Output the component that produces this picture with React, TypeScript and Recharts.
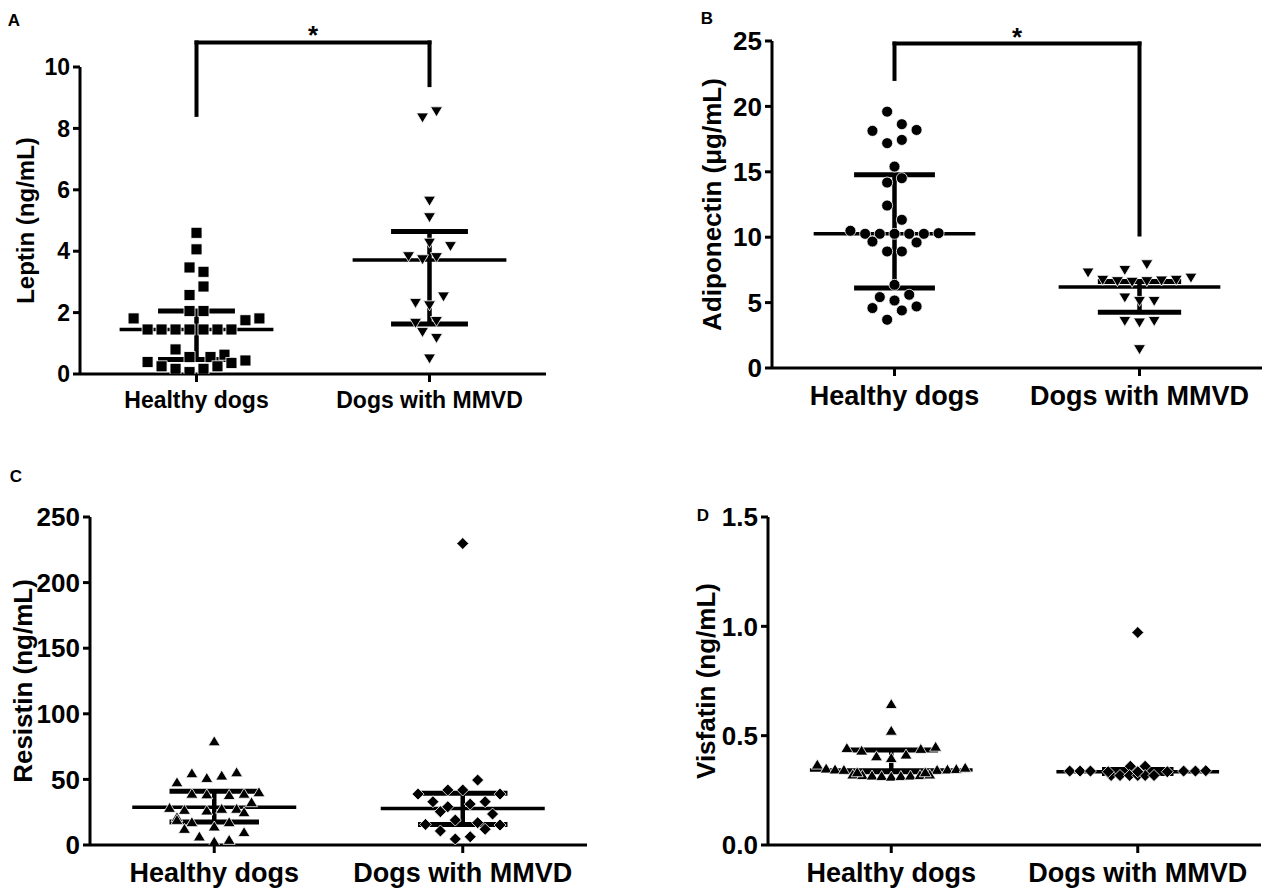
import React from 'react'
import { ScatterChart, Scatter, XAxis, YAxis, ReferenceLine, ReferenceDot } from 'recharts'

const groups = ['Healthy dogs', 'Dogs with MMVD']

// each point: [value, column slot used by the dot-plot spreading]
// A - leptin (ng/mL)
const leptinHealthy: [number, number][] = [
  [4.6, 0], [4.06, 0], [3.47, -0.5], [3.33, 0.5], [2.85, 0.5], [2.57, -0.5], [2.05, -0.5], [2.05, 0.5],
  [1.81, -4.5], [1.75, 3.5], [1.81, 4.5], [1.45, -3.5], [1.45, -2.5], [1.45, -1.5], [1.45, -0.5], [1.45, 0.5],
  [1.45, 1.5], [1.45, 2.5], [0.8, -1.5], [0.55, -0.5], [0.55, 1], [0.63, 2], [0.36, 2.5], [0.39, -3.5],
  [0.44, 3.5], [0.25, -2.5], [0.17, -1.5], [0.06, -0.5], [0.17, 0.5], [0.25, 1.5],
]
const leptinMmvd: [number, number][] = [
  [8.34, -0.5], [8.54, 0.5], [5.63, 0], [5.09, 0], [4.26, 0], [4.15, 1.5], [3.82, -1.5], [3.72, -0.5],
  [3.79, 0.5], [2.51, 1], [2.3, -1], [2.22, 0], [1.65, -1], [1.71, 0.5], [1.35, -0.5], [1.16, 0.5], [0.49, 0],
]
const leptinMedian = [1.45, 3.71]
const leptinQ1 = [0.47, 1.63]
const leptinQ3 = [2.05, 4.64]
const leptinTicks = [0, 2, 4, 6, 8, 10]
const leptinBracket = [8.44, 9.41, 10.8] // left foot, right foot, top

// B - adiponectin (ug/mL)
const adipoHealthy: [number, number][] = [
  [19.6, -0.5], [18.13, -1.5], [18.64, 0.5], [18.2, 1.5], [17.19, -0.5], [17.44, 0.5], [15.4, 0], [14.18, -0.5],
  [14.51, 0.5], [12.42, -0.5], [11.33, 0.5], [10.49, -3], [10.26, -2], [10.26, -1], [10.26, 0], [10.26, 1],
  [10.26, 2], [10.31, 3], [9.67, -1.5], [9.6, 1.5], [8.91, -0.5], [8.91, 0.5], [6.36, 0], [5.42, -1],
  [5.6, 1], [5.16, 0], [4.58, -1.5], [4.71, 1.5], [4.4, 0.5], [3.69, -0.5],
]
const adipoMmvd: [number, number][] = [
  [7.26, -3.5], [7.46, -1], [7.89, 0.5], [6.87, 3.5], [6.7, -2.5], [6.6, -1.5], [6.55, -0.5], [6.6, 0.5],
  [6.65, 1.5], [6.7, 2.5], [5.35, -1], [5.09, 0], [5.09, 1], [3.56, -1], [3.44, 0], [3.56, 1], [1.4, 0],
]
const adipoMedian = [10.26, 6.19]
const adipoQ1 = [6.11, 4.27]
const adipoQ3 = [14.77, 6.62]
const adipoTicks = [0, 5, 10, 15, 20, 25]
const adipoBracket = [22.1, 10.2, 24.8]

// C - resistin (ng/mL)
const resistinHealthy: [number, number][] = [
  [79.4, 0], [55.1, -1.5], [51.5, -0.5], [53.3, 0.5], [55.8, 1.5], [48.2, -2.5], [39.5, -1.5], [39.0, -0.5],
  [38.5, 1], [39.5, 2], [40.6, 3], [33.0, 2.5], [28.7, -3], [27.2, -2], [26.7, -0.5], [28.0, 0.5],
  [28.0, 1.5], [25.4, 2], [21.6, -2.5], [19.5, -2.5], [17.8, -1.5], [14.5, 0], [17.8, 1], [12.7, -2],
  [10.2, 2], [6.9, -1], [3.0, 0], [4.3, 1],
]
const resistinMmvd: [number, number][] = [
  [229.8, 0], [49.5, 1], [38.8, -3], [41.9, -1], [41.9, 0], [38.8, 2.5], [33.0, -2], [31.2, 0.5],
  [33.0, 1.5], [25.4, -1.5], [29.2, -1], [23.6, 2], [19.0, -0.5], [15.7, -2.5], [17.0, 1], [15.2, 2.5],
  [12.0, 1.5], [10.7, -1.5], [4.6, -0.5], [6.3, 0.5],
]
const resistinMedian = [28.7, 27.9]
const resistinQ1 = [17.5, 15.7]
const resistinQ3 = [41.0, 39.4]
const resistinTicks = [0, 50, 100, 150, 200, 250]

// D - visfatin (ng/mL)
const visfatinHealthy: [number, number][] = [
  [0.647, 0], [0.525, 0], [0.446, -3], [0.452, 3], [0.434, -2], [0.442, 2], [0.408, -1], [0.416, 1],
  [0.4, 0], [0.37, -5], [0.352, -4.4], [0.348, -3.8], [0.346, -3.2], [0.346, 3.1], [0.348, 3.8], [0.35, 4.4],
  [0.356, 5], [0.325, -2.6], [0.322, -1.95], [0.32, -1.3], [0.318, -0.65], [0.315, 0], [0.318, 0.65],
  [0.32, 1.3], [0.322, 1.95], [0.325, 2.6], [0.335, -2.3], [0.335, 2.3],
]
const visfatinMmvd: [number, number][] = [
  [0.972, 0], [0.338, -4.6], [0.338, -3.9], [0.338, -3.2], [0.338, 3.1], [0.338, 3.9], [0.34, 4.6],
  [0.36, -0.5], [0.36, 0.5], [0.318, -1.8], [0.318, -1.2], [0.318, -0.55], [0.318, 0], [0.318, 0.5],
  [0.318, 1.1], [0.335, -2], [0.335, 0], [0.335, 2],
]
const visfatinMedian = [0.343, 0.335]
const visfatinQ1 = [0.335, 0.327]
const visfatinQ3 = [0.435, 0.345]
const visfatinTicks = [0, 0.5, 1.0, 1.5]

const FONT = '"Liberation Sans", Arial, Helvetica, sans-serif'
const STEP = 0.12
const YW = 90
const MT = 70
const MR = 6
const XH = 50
const axisStyle = { stroke: '#000', strokeWidth: 3 }

type Kind = 'square' | 'circle' | 'down' | 'up' | 'diamond'

const marker = (kind: Kind) => (props: any) => {
  const { cx, cy } = props
  if (cx == null || cy == null) return <g />
  const common = { fill: '#000', stroke: '#fff', strokeWidth: 0.8 }
  if (kind === 'square') return <rect x={cx - 5.5} y={cy - 5.5} width={11} height={11} {...common} />
  if (kind === 'circle') return <circle cx={cx} cy={cy} r={5.5} {...common} />
  if (kind === 'down')
    return <polygon points={`${cx - 6},${cy - 5} ${cx + 6},${cy - 5} ${cx},${cy + 5}`} {...common} />
  if (kind === 'up')
    return <polygon points={`${cx - 6},${cy + 5} ${cx + 6},${cy + 5} ${cx},${cy - 5}`} {...common} />
  return <polygon points={`${cx},${cy - 6} ${cx + 6},${cy} ${cx},${cy + 6} ${cx - 6},${cy}`} {...common} />
}

const toPoints = (rows: [number, number][], g: number) =>
  rows.map(([v, s]) => ({ x: 1 + 2 * g + s * STEP, y: v }))

type PanelProps = {
  letter: string
  letterPos: [number, number]
  plot: { x: number; y: number; w: number; h: number }
  title: string
  titleOff: number
  titleFont: number
  tickFont: number
  xFont: number
  ticks: number[]
  fmt?: (v: number) => string
  series: [number, number][][]
  shapes: Kind[]
  median: number[]
  q1: number[]
  q3: number[]
  iqrHalf: number[]
  bracket?: number[]
}

function Panel(p: PanelProps) {
  const width = p.plot.w + YW + MR
  const height = p.plot.h + MT + XH
  const yMax = p.ticks[p.ticks.length - 1]

  const yTitle = (props: any) => {
    const vb = props.viewBox
    const cx = vb.x + vb.width - p.titleOff
    const cy = vb.y + vb.height / 2
    return (
      <text x={cx} y={cy} transform={`rotate(-90 ${cx} ${cy})`} textAnchor="middle" dominantBaseline="central"
        fontFamily={FONT} fontWeight={700} fontSize={p.titleFont} fill="#000">
        {p.title}
      </text>
    )
  }

  return (
    <>
      <div style={{
        position: 'absolute', left: p.letterPos[0], top: p.letterPos[1], transform: 'translate(-50%, -50%)',
        fontFamily: FONT, fontWeight: 700, fontSize: 17, lineHeight: 1,
      }}>{p.letter}</div>
      <div style={{ position: 'absolute', left: p.plot.x - YW, top: p.plot.y - MT, width, height }}>
        <ScatterChart width={width} height={height} margin={{ top: MT, right: MR, bottom: 0, left: 0 }}>
          <XAxis type="number" dataKey="x" domain={[0, 4]} ticks={[1, 3]} interval={0} allowDataOverflow
            tickFormatter={(v: number) => groups[(v - 1) / 2]} height={XH}
            axisLine={axisStyle} tickLine={axisStyle} tickSize={8} tickMargin={10}
            tick={{ fill: '#000', fontSize: p.xFont, fontWeight: 700, fontFamily: FONT }} />
          <YAxis type="number" dataKey="y" domain={[0, yMax]} ticks={p.ticks} interval={0} allowDataOverflow
            tickFormatter={p.fmt} width={YW} axisLine={axisStyle} tickLine={axisStyle} tickSize={7} tickMargin={3}
            tick={{ fill: '#000', fontSize: p.tickFont, fontWeight: 700, fontFamily: FONT }}
            label={{ content: yTitle }} />
          {groups.map((g, i) => {
            const c = 1 + 2 * i
            return [
              <ReferenceLine key={`m${i}`} segment={[{ x: c - 0.66, y: p.median[i] }, { x: c + 0.66, y: p.median[i] }]}
                stroke="#000" strokeWidth={3.5} ifOverflow="visible" />,
              <ReferenceLine key={`a${i}`} segment={[{ x: c - p.iqrHalf[i], y: p.q3[i] }, { x: c + p.iqrHalf[i], y: p.q3[i] }]}
                stroke="#000" strokeWidth={5} ifOverflow="visible" />,
              <ReferenceLine key={`b${i}`} segment={[{ x: c - p.iqrHalf[i], y: p.q1[i] }, { x: c + p.iqrHalf[i], y: p.q1[i] }]}
                stroke="#000" strokeWidth={5} ifOverflow="visible" />,
              <ReferenceLine key={`v${i}`} segment={[{ x: c, y: p.q1[i] }, { x: c, y: p.q3[i] }]}
                stroke="#000" strokeWidth={4.5} ifOverflow="visible" />,
            ]
          })}
          {p.bracket && [
            <ReferenceLine key="bl" segment={[{ x: 1, y: p.bracket[0] }, { x: 1, y: p.bracket[2] }]}
              stroke="#000" strokeWidth={4} strokeLinecap="square" ifOverflow="visible" />,
            <ReferenceLine key="bt" segment={[{ x: 1, y: p.bracket[2] }, { x: 3, y: p.bracket[2] }]}
              stroke="#000" strokeWidth={4} strokeLinecap="square" ifOverflow="visible" />,
            <ReferenceLine key="br" segment={[{ x: 3, y: p.bracket[1] }, { x: 3, y: p.bracket[2] }]}
              stroke="#000" strokeWidth={4} strokeLinecap="square" ifOverflow="visible" />,
            <ReferenceDot key="star" x={2} y={p.bracket[2]} r={0} ifOverflow="visible" fill="none" stroke="none"
              label={{ value: '*', position: 'top', offset: -2, fill: '#000', fontSize: 26, fontWeight: 700, fontFamily: FONT }} />,
          ]}
          {p.series.map((rows, i) => (
            <Scatter key={i} data={toPoints(rows, i)} isAnimationActive={false} shape={marker(p.shapes[i])} />
          ))}
        </ScatterChart>
      </div>
    </>
  )
}

export default function App() {
  return (
    <div style={{ position: 'absolute', left: 0, top: 0, width: 1264, height: 888, overflow: 'hidden', background: '#fff' }}>
      <Panel letter="A" letterPos={[14, 20]} plot={{ x: 80, y: 67, w: 466, h: 307 }}
        title="Leptin (ng/mL)" titleOff={55} titleFont={24} tickFont={23} xFont={23} ticks={leptinTicks}
        series={[leptinHealthy, leptinMmvd]} shapes={['square', 'down']}
        median={leptinMedian} q1={leptinQ1} q3={leptinQ3} iqrHalf={[0.33, 0.33]} bracket={leptinBracket} />
      <Panel letter="B" letterPos={[707, 18]} plot={{ x: 772, y: 41, w: 490, h: 327 }}
        title="Adiponectin (μg/mL)" titleOff={60} titleFont={26} tickFont={26} xFont={27} ticks={adipoTicks}
        series={[adipoHealthy, adipoMmvd]} shapes={['circle', 'down']}
        median={adipoMedian} q1={adipoQ1} q3={adipoQ3} iqrHalf={[0.33, 0.34]} bracket={adipoBracket} />
      <Panel letter="C" letterPos={[16, 476]} plot={{ x: 90, y: 517, w: 497, h: 328 }}
        title="Resistin (ng/mL)" titleOff={67} titleFont={26} tickFont={26} xFont={27} ticks={resistinTicks}
        series={[resistinHealthy, resistinMmvd]} shapes={['up', 'diamond']}
        median={resistinMedian} q1={resistinQ1} q3={resistinQ3} iqrHalf={[0.36, 0.36]} />
      <Panel letter="D" letterPos={[703, 515]} plot={{ x: 768, y: 517, w: 493, h: 328 }}
        title="Visfatin (ng/mL)" titleOff={62} titleFont={26} tickFont={26} xFont={27} ticks={visfatinTicks}
        fmt={(v) => v.toFixed(1)}
        series={[visfatinHealthy, visfatinMmvd]} shapes={['up', 'diamond']}
        median={visfatinMedian} q1={visfatinQ1} q3={visfatinQ3} iqrHalf={[0.38, 0.29]} />
    </div>
  )
}
